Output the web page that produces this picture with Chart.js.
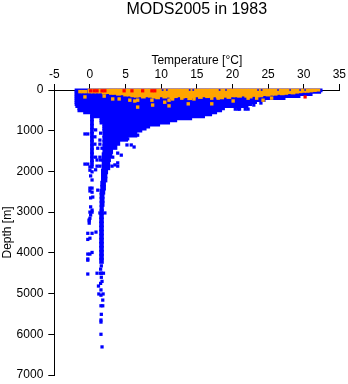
<!DOCTYPE html>
<html>
<head>
<meta charset="utf-8">
<script src="https://cdn.jsdelivr.net/npm/chart.js@4"></script>
<style>
  html, body { margin: 0; padding: 0; background: #fff; }
  canvas { display: block; }
</style>
</head>
<body>
<canvas id="chart" width="348" height="384"></canvas>
<script>
const xTicks = [-5, 0, 5, 10, 15, 20, 25, 30, 35];
const yTicks = [0, 1000, 2000, 3000, 4000, 5000, 6000, 7000];

// blue mass, shallow rows
const upperDepths = [10, 50, 100, 150, 200, 250, 300, 350, 400, 450, 500, 550, 600, 650, 700, 750, 800, 850, 900, 950, 1000];
const upperMin = [-2.1, -2.1, -2.1, -2.1, -2.1, -2.1, -2.1, -2.1, -2.0, -1.7, -1.7, -0.9, 0, 0, 1.4, 1.4, 1.4, 1.8, 1.8, 1.8, 1.8];
const upperMax = [32.6, 32.4, 31.2, 29.5, 27.4, 24.6, 23.4, 22.7, 22.2, 18.9, 18.5, 17.8, 17.1, 16.1, 14.3, 12.2, 11.2, 9.8, 8.4, 7.9, 7.3];

// blue mass, deep rows
const lowerDepths = [1100, 1200, 1300, 1400, 1500, 1600, 1700, 1800, 1900, 2000, 2100, 2200, 2300, 2400, 2500, 2600, 2700, 2800, 2900, 3000, 3100, 3200, 3300, 3400, 3500, 3600, 3700, 3800, 3900, 4000, 4100, 4200];
const lowerMin = [1.8, 1.8, 1.8, 1.8, 1.8, 1.7, 1.7, 1.7, 1.7, 1.6, 1.6, 1.6, 1.5, 1.5, 1.4, 1.4, 1.4, 1.4, 1.4, 1.4, 1.35, 1.35, 1.35, 1.35, 1.35, 1.35, 1.35, 1.35, 1.35, 1.35, 1.35, 1.35];
const lowerMax = [6.6, 5.3, 4.2, 3.8, 3.2, 3.1, 2.9, 2.8, 2.8, 2.5, 2.4, 2.4, 2.2, 2.2, 2.1, 2.0, 2.0, 2.0, 1.9, 1.9, 1.9, 1.9, 1.9, 1.9, 1.9, 1.9, 1.9, 1.9, 1.9, 1.9, 1.9, 1.9];

// narrow strip left of the main column
const stripDepths = [700, 800, 900, 1000, 1100, 1200, 1300, 1400, 1500, 1600, 1700, 1800];
const stripMin = [0, 0, 0, 0, 0, 0, 0, 0, 0, 0, 0, 0];
const stripMax = [0.5, 0.5, 0.5, 0.5, 0.5, 0.5, 0.5, 0.5, 0.5, 0.5, 0.5, 0.5];

// single blue casts
const blueT = [20.4, 20.8, 21.8, 22.2, 21, 23, 24,
  -0.7, -0.3, -0.7, -0.3, 0.8, 1.5, 0.7, 1.4, 0.7, 1.4, 1.1, 1.7, 0.8, 1.4, 1, 1.5, 1, 1.4,
  4.9, 5.6, 6.2, 6.7, 5.3, 5.2, 5.8, 6.2, 3.9, 4.4, 3.9, 3.5, 3.2, 3.1, 3.9,
  0.8, 1.1, 1.4, 2.1,
  0, 0.3, 0, 0.3, 0.1, 0.3, 0, 0.3, 0, 0.3, 0.1, 0.4, 0.1, 0.3, 0, 0.3, 0.1, 0, -0.1, -0.1,
  -0.1, -0.3, 0.3, 0.85, -0.3, 0, -0.3, 0, 0.3, -0.3, -0.3, -0.3,
  1.6, 1.5, 1.6, 1.5, 1.6, 1.0, 1.9, 1.7, 1.2, 1.5, 1.55, 1.55, 1.25, 1.85, 1.8, 1.55, 1.8, 1.6, 1.55, 1.55, 1.55, 1.7];
const blueD = [470, 470, 470, 470, 470, 370, 320,
  1080, 1080, 1820, 1820, 980, 1060, 1150, 1230, 1330, 1330, 1430, 1430, 1650, 1650, 1720, 1720, 1870, 1870,
  1110, 1110, 1110, 1110, 1200, 1350, 1350, 1400, 1550, 1600, 1790, 1840, 1650, 1870, 1870,
  1960, 2460, 3020, 3020,
  1890, 1890, 1970, 2010, 2110, 2210, 2410, 2410, 2480, 2510, 2650, 2630, 2870, 2950, 3000, 3000, 3070, 3150, 3190, 3270,
  3210, 3520, 3520, 3490, 3670, 3640, 4030, 4030, 3990, 4150, 4180, 4520,
  4320, 4400, 4500, 4500, 4600, 4500, 4500, 4700, 4815, 4750, 4910, 5040, 5010, 5010, 5160, 5300, 5300, 5510, 5650, 5700, 6000, 6310];

// orange band, surface down to these depths
const bandT = [0, 0.5, 1, 1.5, 2, 2.5, 3, 3.5, 4, 4.5, 5, 5.5, 6, 6.5, 7, 7.5, 8, 8.5, 9, 9.5, 10, 10.5, 11, 11.5, 12, 12.5, 13, 13.5, 14, 14.5, 15, 15.5, 16, 16.5, 17, 17.5, 18, 18.5, 19, 19.5, 20, 20.5, 21, 21.5, 22, 22.5, 23, 23.5, 24, 24.5, 25, 25.5, 26, 26.5, 27, 27.5, 28, 28.5, 29, 29.5, 30, 30.5, 31, 31.5, 32];
const bandD = [75, 75, 75, 75, 100, 90, 110, 110, 130, 120, 150, 150, 170, 180, 170, 200, 170, 180, 200, 220, 170, 200, 180, 220, 190, 170, 200, 190, 240, 200, 170, 210, 170, 190, 180, 170, 200, 220, 180, 210, 170, 170, 180, 150, 180, 200, 160, 170, 170, 140, 150, 130, 130, 110, 120, 110, 90, 100, 80, 70, 60, 60, 50, 40, 30];

const orangeT = [-0.7, -1.4, -1, -0.6, 2, 3.2, 4.1, 5.6, 6.3, 6.7, 6.7, 8.7, 8.8, 10.5, 11.1, 11.1, 12.9, 11.6, 13.8, 14.6, 17.1, 17.1, 18, 20.1, 22.2, 24.3, 25.5, 23.4];
const orangeD = [170, 40, 40, 40, 150, 220, 220, 250, 270, 250, 420, 250, 370, 300, 250, 390, 200, 220, 340, 220, 340, 200, 200, 270, 200, 250, 200, 200];

const redT = [0.1, 0.6, 1, 1.7, 2.1, 4.8, 5.9, 7.4, 8.7, 9.1, 30.2];
const redD = [20, 20, 20, 20, 20, 20, 20, 20, 20, 20, 170];

// blue specks showing through along the surface
const speckT = [10.2, 10.8, 14, 14.5, 18.2, 19.1, 23.6, 24.1, 26.4, 28.1, 29.5, 30.2];
const speckD = [0, 0, 0, 0, 0, 0, 0, 0, 0, 0, 0, 0];

const BLUE = "#0000ff";
const ORANGE = "#ffa500";
const RED = "#ff0000";

function rows(depths, mins, maxs, thickness) {
  return {
    type: "bar",
    indexAxis: "y",
    data: depths.map((d, i) => ({ x: [mins[i], maxs[i]], y: d })),
    backgroundColor: BLUE,
    borderWidth: 0,
    barThickness: thickness,
    grouped: false,
    clip: false
  };
}

function spots(ts, ds, color, radius) {
  return {
    type: "scatter",
    data: ts.map((t, i) => ({ x: t, y: ds[i] })),
    backgroundColor: color,
    borderWidth: 0,
    pointStyle: "rect",
    pointRadius: radius,
    clip: false
  };
}

Chart.defaults.font.family = "'Liberation Sans', sans-serif";
Chart.defaults.font.size = 12;
Chart.defaults.color = "#000";

new Chart(document.getElementById("chart"), {
  type: "bar",
  data: {
    datasets: [
      spots(redT, redD, RED, 2.3),
      spots(speckT, speckD, BLUE, 1.2),
      spots(orangeT, orangeD, ORANGE, 2.4),
      {
        type: "bar",
        data: bandT.map((t, i) => ({ x: t, y: [-25, bandD[i]] })),
        backgroundColor: ORANGE,
        borderWidth: 0,
        barThickness: 4,
        grouped: false,
        clip: false
      },
      spots(blueT, blueD, BLUE, 2.3),
      rows(stripDepths, stripMin, stripMax, 5),
      rows(lowerDepths, lowerMin, lowerMax, 5),
      rows(upperDepths, upperMin, upperMax, 3)
    ]
  },
  options: {
    responsive: false,
    animation: false,
    layout: { padding: { left: 0, right: 8.7, top: 0, bottom: 9 } },
    plugins: {
      legend: { display: false },
      tooltip: { enabled: false },
      title: {
        display: true,
        text: "MODS2005 in 1983",
        fullSize: false,
        color: "#000",
        font: { size: 16, weight: "normal" },
        padding: { top: 0, bottom: 10.8 }
      }
    },
    scales: {
      x: {
        type: "linear",
        position: "top",
        min: -5,
        max: 35,
        offset: false,
        afterBuildTicks: s => { s.ticks = xTicks.map(v => ({ value: v })); },
        afterFit: s => { s.height = 60; s.paddingLeft = 0; s.paddingRight = 0; },
        ticks: { maxRotation: 0, padding: 2, color: "#000" },
        grid: { offset: false, drawOnChartArea: false, tickLength: 6, color: "#000" },
        border: { color: "#000", width: 1 },
        title: { display: true, text: "Temperature [°C]", color: "#000", padding: { top: 23, bottom: 0 } }
      },
      y: {
        type: "linear",
        position: "left",
        reverse: true,
        min: 0,
        max: 7000,
        offset: false,
        afterBuildTicks: s => { s.ticks = yTicks.map(v => ({ value: v })); },
        afterFit: s => { s.width = 54.3; s.paddingTop = 0; s.paddingBottom = 0; },
        ticks: { padding: 5, color: "#000", callback: v => String(v) },
        grid: { offset: false, drawOnChartArea: false, tickLength: 6, color: "#000" },
        border: { color: "#000", width: 1 },
        title: { display: true, text: "Depth [m]", color: "#000", padding: 0 }
      }
    }
  }
});
</script>
</body>
</html>
